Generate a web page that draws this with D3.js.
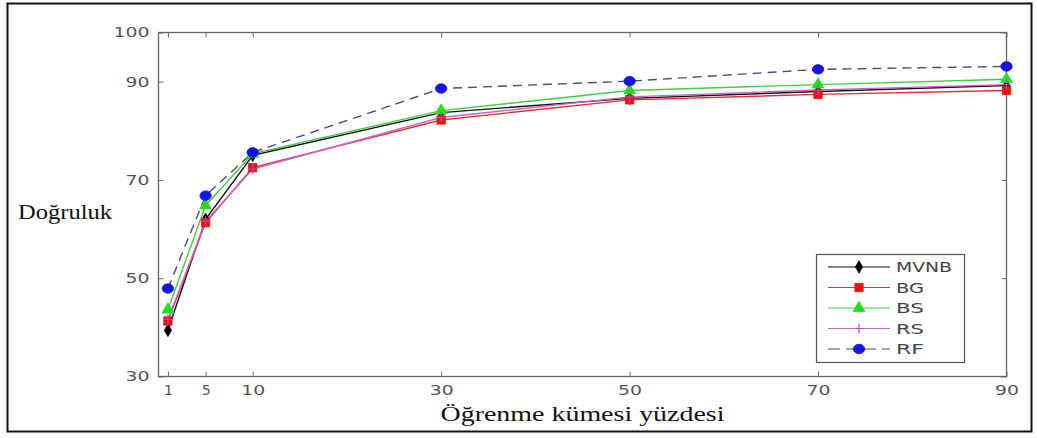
<!DOCTYPE html>
<html><head><meta charset="utf-8">
<script src="https://cdn.jsdelivr.net/npm/d3@7"></script>
<style>body{margin:0;background:#fff}svg{display:block}</style>
</head><body>
<svg id="c" width="1037" height="438"></svg>
<script>
const xValues = [1, 5, 10, 30, 50, 70, 90];
const xTicks = [1, 5, 10, 30, 50, 70, 90];
const yTicks = [30, 50, 70, 90, 100];
const seriesNames = ["MVNB", "BG", "BS", "RS", "RF"];
const mvnb = [39.4, 62.0, 75.0, 83.7, 86.6, 88.0, 89.2];
const bg   = [41.3, 61.3, 72.5, 82.2, 86.3, 87.4, 88.2];
const bs   = [43.6, 64.8, 75.3, 84.1, 88.2, 89.4, 90.5];
const rs   = [41.6, 61.6, 72.2, 82.7, 86.9, 88.3, 89.4];
const rf   = [47.9, 66.8, 75.6, 88.6, 90.1, 92.5, 93.1];

const svg = d3.select("#c");
svg.append("rect").attr("x", 7.5).attr("y", 3.5).attr("width", 1024).attr("height", 428)
  .attr("fill", "none").attr("stroke", "#111").attr("stroke-width", 2);

const x = d3.scaleLinear().domain([0, 90]).range([158.5, 1006.5]);
const y = d3.scaleLinear().domain([30, 100]).range([376.5, 32.5]);

const axisColor = "#666";
const g = svg.append("g");
g.append("rect").attr("x", x(0)).attr("y", y(100)).attr("width", x(90) - x(0)).attr("height", y(30) - y(100))
  .attr("fill", "none").attr("stroke", axisColor).attr("stroke-width", 1.3);

const fontTick = "14px 'DejaVu Sans', Arial, sans-serif";
const xb = g.append("g").attr("transform", `translate(0,${y(30)})`)
  .call(d3.axisBottom(x).tickValues(xTicks).tickSizeInner(-5).tickSizeOuter(0).tickPadding(9));
const xt = g.append("g").attr("transform", `translate(0,${y(100)})`)
  .call(d3.axisTop(x).tickValues(xTicks).tickSizeInner(-5).tickSizeOuter(0).tickFormat(""));
const yl = g.append("g").attr("transform", `translate(${x(0)},0)`)
  .call(d3.axisLeft(y).tickValues(yTicks).tickSizeInner(-5).tickSizeOuter(0).tickPadding(9));
const yr = g.append("g").attr("transform", `translate(${x(90)},0)`)
  .call(d3.axisRight(y).tickValues(yTicks).tickSizeInner(-5).tickSizeOuter(0).tickFormat(""));
[xb, xt, yl, yr].forEach(a => {
  a.select(".domain").remove();
  a.selectAll("line").attr("stroke", axisColor);
  a.selectAll("text").style("font", fontTick).attr("fill", "#555")
    .each(function() {
      const n = this.textContent.length;
      if (n > 1) d3.select(this).attr("textLength", n * 12).attr("lengthAdjust", "spacingAndGlyphs");
    });
});

const series = [
  {name: "MVNB", data: mvnb, color: "#111", mcolor: "#000", dash: null, marker: "diamond"},
  {name: "BG", data: bg, color: "#e03030", mcolor: "#ee1111", dash: null, marker: "square"},
  {name: "BS", data: bs, color: "#44cc44", mcolor: "#22dd22", dash: null, marker: "triangle"},
  {name: "RS", data: rs, color: "#cc66cc", mcolor: "#bb44bb", dash: null, marker: "plus"},
  {name: "RF", data: rf, color: "#4a4a80", mcolor: "#1515e0", dash: "9,6", marker: "circle"}
];
const symMap = {diamond: d3.symbolDiamond, square: d3.symbolSquare, triangle: d3.symbolTriangle, circle: d3.symbolCircle};
const sizeMap = {diamond: 45, square: 70, triangle: 60, circle: 70};

function drawMarker(sel, s, cx, cy) {
  if (s.marker === "plus") {
    sel.append("path").attr("d", `M${cx-4},${cy}H${cx+4}M${cx},${cy-5}V${cy+5}`)
      .attr("stroke", s.mcolor).attr("stroke-width", 1.2).attr("fill", "none");
  } else {
    sel.append("path").attr("d", d3.symbol().type(symMap[s.marker]).size(sizeMap[s.marker])())
      .attr("transform", `translate(${cx},${cy})` + (s.marker === "circle" ? " scale(1.2,1)" : ""))
      .attr("fill", s.mcolor).attr("stroke", s.mcolor).attr("stroke-width", 0.8);
  }
}

const line = d3.line().x((d, i) => x(xValues[i])).y(d => y(d));
const plot = svg.append("g");
series.forEach(s => {
  plot.append("path").datum(s.data).attr("d", line).attr("fill", "none")
    .attr("stroke", s.color).attr("stroke-width", 1.4)
    .attr("stroke-dasharray", s.dash);
});
series.forEach(s => {
  const mg = plot.append("g");
  s.data.forEach((v, i) => drawMarker(mg, s, x(xValues[i]), y(v)));
});

// legend
const lg = svg.append("g");
lg.append("rect").attr("x", 816.5).attr("y", 254.5).attr("width", 148).attr("height", 108)
  .attr("fill", "#fff").attr("stroke", "#555").attr("stroke-width", 1.2);
series.forEach((s, i) => {
  const ly = 267 + i * 20.5;
  lg.append("line").attr("x1", 828).attr("x2", 890).attr("y1", ly).attr("y2", ly)
    .attr("stroke", s.color).attr("stroke-width", 1.2).attr("stroke-dasharray", s.dash ? "12,6" : null);
  drawMarker(lg, s, 859, ly);
  lg.append("text").attr("x", 896).attr("y", ly + 5).text(s.name)
    .style("font", "14px 'DejaVu Sans', Arial, sans-serif").attr("fill", "#444")
    .attr("textLength", s.name.length * 14).attr("lengthAdjust", "spacingAndGlyphs");
});

// axis labels
svg.append("text").attr("x", 18).attr("y", 219).text("Doğruluk")
  .style("font", "20px 'Liberation Serif', 'Times New Roman', serif").attr("fill", "#111")
  .attr("textLength", 94).attr("lengthAdjust", "spacingAndGlyphs");
svg.append("text").attr("x", (x(0) + x(90)) / 2).attr("y", 421).attr("text-anchor", "middle")
  .text("Öğrenme kümesi yüzdesi")
  .style("font", "20px 'Liberation Serif', 'Times New Roman', serif").attr("fill", "#111")
  .attr("textLength", 284).attr("lengthAdjust", "spacingAndGlyphs");
</script>
</body></html>
